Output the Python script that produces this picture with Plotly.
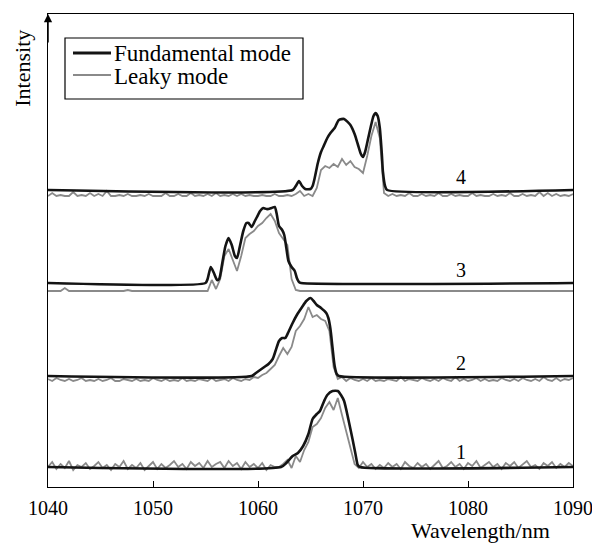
import plotly.graph_objects as go

# ---------------- data ----------------
# Fundamental mode (black) spectra: wavelength (nm) and intensity above own baseline
f4_wl = [1040, 1063.3, 1063.6, 1063.9, 1064.2, 1064.5, 1065.0, 1065.2, 1065.4, 1065.7, 1066.0, 1066.3,
         1066.6, 1066.9, 1067.3, 1067.7, 1068.2, 1068.8, 1069.2, 1069.5, 1069.8, 1070.0, 1070.2, 1070.5,
         1070.8, 1071.0, 1071.2, 1071.4, 1071.6, 1071.8, 1071.9, 1072.1, 1072.3, 1090]
f4_int = [0, 0, 4, 9, 4, 1, 1, 4, 12, 27, 38, 45,
          52, 57, 62, 70, 71, 65, 56, 46, 36, 33, 38, 52,
          66, 74, 77, 74, 62, 35, 18, 4, 0, 0]

f3_wl = [1040, 1055.0, 1055.2, 1055.5, 1055.8, 1056.1, 1056.3, 1056.6, 1056.9, 1057.2, 1057.5, 1057.8,
         1058.0, 1058.3, 1058.6, 1058.9, 1059.1, 1059.4, 1059.7, 1059.9, 1060.2, 1060.5, 1060.8, 1061.0,
         1061.3, 1061.6, 1061.8, 1062.0, 1062.3, 1062.5, 1062.7, 1062.9, 1063.2, 1063.5, 1063.7, 1063.9,
         1064.1, 1090]
f3_int = [0, 0, 4, 16, 10, 3, 4, 20, 37, 45, 38, 27,
          25, 38, 52, 60, 60, 56, 62, 66, 72, 75, 74, 74,
          75, 76, 68, 57, 53, 48, 35, 22, 16, 12, 5, 1,
          0, 0]

f2_wl = [1040, 1059.4, 1059.8, 1060.2, 1060.6, 1061.0, 1061.4, 1061.7, 1062.0, 1062.3, 1062.6, 1062.9,
         1063.3, 1063.7, 1064.2, 1064.6, 1065.0, 1065.3, 1065.6, 1066.0, 1066.5, 1066.7, 1066.9, 1067.1,
         1067.3, 1067.5, 1067.7, 1090]
f2_int = [0, 0, 3, 6, 9, 12, 17, 26, 35, 38, 38, 44,
          53, 61, 69, 75, 78, 75, 71, 68, 63, 58, 47, 28,
          10, 2, 0, 0]

f1_wl = [1040, 1062.2, 1062.7, 1063.3, 1063.8, 1064.3, 1064.8, 1065.2, 1065.6, 1065.9, 1066.3, 1066.6,
         1067.1, 1067.6, 1067.9, 1068.2, 1068.6, 1069.0, 1069.3, 1069.5, 1069.7, 1090]
f1_int = [0, 0, 4, 11, 14, 21, 33, 48, 53, 56, 66, 72,
          76, 76, 72, 66, 48, 28, 12, 2, 0, 0]

# Leaky mode (gray) spectra sampled every 0.4 nm from 1040 to 1090 nm
leaky_start = 1040.0
leaky_step = 0.4
l4_int = [0, 3, 0, 1, 0, 0, 4, 0, 1, 0,
          3, 0, 2, 0, 5, 0, 0, 1, 0, 2,
          0, 0, 1, 0, 2, 0, 0, 0, 3, 0,
          0, 2, 0, 0, 3, 0, 1, 0, 2, 0,
          3, 0, 1, 0, 2, 0, 2, 0, 1, 0,
          0, 1, 0, 0, 2, 0, 0, 1, 0, 2,
          5, 0, 2, 0, 8, 26, 30, 28, 32, 29,
          37, 31, 35, 29, 27, 23, 40, 60, 74, 58,
          3, 0, 2, 0, 1, 0, 3, 0, 0, 2,
          0, 1, 0, 3, 0, 0, 2, 0, 1, 0,
          0, 3, 0, 1, 0, 0, 2, 0, 1, 0,
          3, 0, 0, 2, 0, 1, 0, 4, 0, 3,
          0, 2, 0, 1, 0, 2]
l3_int = [0, 0, 0, 0, 3, 0, 0, 0, 0, 0,
          0, 0, 0, 0, 0, 0, 0, 0, 0, 1,
          0, 0, 0, 0, 0, 0, 0, 0, 0, 0,
          0, 0, 0, 0, 0, 0, 0, 0, 0, 11,
          2, 12, 35, 42, 30, 20, 35, 53, 57, 60,
          65, 68, 73, 77, 70, 58, 52, 46, 12, 1,
          0, 0, 0, 0, 0, 0, 0, 0, 0, 0,
          0, 0, 0, 0, 0, 0, 0, 0, 0, 0,
          0, 0, 0, 0, 0, 0, 0, 0, 0, 0,
          0, 0, 0, 0, 0, 0, 0, 0, 0, 0,
          0, 0, 0, 0, 0, 0, 0, 0, 0, 0,
          0, 0, 0, 0, 0, 0, 0, 0, 0, 0,
          0, 0, 0, 0, 0, 0]
l2_int = [2, 0, 3, 1, 0, 2, 0, 1, 3, 0,
          1, 0, 2, 0, 1, 3, 0, 0, 2, 1,
          0, 2, 0, 1, 0, 3, 1, 0, 2, 0,
          1, 0, 3, 0, 1, 0, 2, 1, 0, 3,
          0, 1, 2, 0, 3, 1, 0, 2, 1, 4,
          3, 6, 8, 12, 16, 25, 33, 27, 34, 50,
          55, 62, 74, 64, 66, 62, 60, 50, 14, 2,
          4, 0, 3, 1, 0, 2, 0, 3, 0, 1,
          0, 2, 1, 0, 4, 0, 2, 1, 0, 3,
          1, 0, 2, 0, 3, 1, 0, 4, 0, 2,
          0, 1, 3, 0, 2, 0, 1, 0, 3, 1,
          0, 2, 0, 3, 1, 0, 2, 0, 4, 1,
          0, 3, 0, 2, 1, 3]
l1_int = [3, 8, 1, 6, 2, 9, 0, 5, 3, 7,
          1, 4, 8, 2, 5, 0, 6, 3, 9, 1,
          5, 2, 7, 0, 4, 8, 1, 6, 2, 5,
          9, 3, 6, 1, 8, 4, 7, 2, 9, 3,
          6, 8, 2, 9, 4, 7, 1, 8, 3, 6,
          2, 7, 0, 5, 3, 3, 6, 10, 2, 14,
          8, 20, 28, 43, 46, 52, 62, 68, 60, 72,
          55, 38, 20, 6, 2, 8, 3, 6, 1, 5,
          2, 7, 3, 6, 1, 8, 4, 2, 7, 3,
          6, 1, 5, 9, 2, 4, 8, 3, 6, 1,
          7, 4, 9, 2, 5, 8, 3, 6, 1, 7,
          4, 8, 2, 6, 9, 3, 5, 1, 7, 4,
          8, 2, 6, 3, 7, 4]

# vertical offsets of each stacked spectrum (baseline level)
fund_offsets = [20, 111, 204, 297]
leaky_offsets = [17, 106, 196, 291]
curve_labels = ["1", "2", "3", "4"]
label_wl = 1079.3
label_y = [35, 124, 217, 310]

series_names = ["Fundamental mode", "Leaky mode"]
x_ticks = [1040, 1050, 1060, 1070, 1080, 1090]
x_range = [1040, 1090]
y_range = [0, 473]

# ---------------- figure ----------------
FONT = "Liberation Serif"
BLACK = "#141414"
GRAY = "#8a8a8a"

fund = [(f1_wl, f1_int), (f2_wl, f2_int), (f3_wl, f3_int), (f4_wl, f4_int)]
leaky = [l1_int, l2_int, l3_int, l4_int]
leaky_wl = [round(leaky_start + leaky_step * k, 2) for k in range(len(l1_int))]

fig = go.Figure()
for i in range(4):
    fig.add_trace(go.Scatter(
        x=leaky_wl, y=[v + leaky_offsets[i] for v in leaky[i]],
        mode="lines", line=dict(color=GRAY, width=1.8),
        name=series_names[1], showlegend=False))
for i in range(4):
    wl, it = fund[i]
    fig.add_trace(go.Scatter(
        x=wl, y=[v + fund_offsets[i] for v in it],
        mode="lines", line=dict(color=BLACK, width=2.6, shape="spline", smoothing=0.6),
        name=series_names[0], showlegend=False))

annotations = []
for i in range(4):
    annotations.append(dict(x=label_wl, y=label_y[i], xref="x", yref="y",
                            text=curve_labels[i], showarrow=False,
                            font=dict(family=FONT, size=20, color="black")))
# y axis title
annotations.append(dict(x=-0.048, y=0.886, xref="paper", yref="paper", text="Intensity",
                        textangle=-90, showarrow=False, xanchor="center", yanchor="middle",
                        font=dict(family=FONT, size=22, color="black")))
# x axis title
annotations.append(dict(x=0.823, y=-0.0915, xref="paper", yref="paper", text="Wavelength/nm",
                        showarrow=False, xanchor="center", yanchor="middle",
                        font=dict(family=FONT, size=22, color="black")))
# arrow at top of y axis
annotations.append(dict(x=0, y=1, xref="paper", yref="paper", ax=0, ay=30, text="",
                        showarrow=True, arrowhead=2, arrowsize=1.1, arrowwidth=1.5,
                        arrowcolor="black", standoff=0))

# legend (drawn as a boxed key)
def px_x(p):
    return (p - 48) / 525.0

def px_y(p):
    return (487 - p) / 473.0

shapes = [
    dict(type="rect", xref="paper", yref="paper", x0=px_x(65), x1=px_x(303),
         y0=px_y(99), y1=px_y(38), line=dict(color="black", width=1.2),
         fillcolor="white", layer="above"),
    dict(type="line", xref="paper", yref="paper", x0=px_x(73), x1=px_x(111),
         y0=px_y(53), y1=px_y(53), line=dict(color=BLACK, width=3), layer="above"),
    dict(type="line", xref="paper", yref="paper", x0=px_x(73), x1=px_x(111),
         y0=px_y(75), y1=px_y(75), line=dict(color=GRAY, width=2), layer="above"),
]
annotations.append(dict(x=px_x(112), y=px_y(53), xref="paper", yref="paper",
                        text=series_names[0], showarrow=False, xanchor="left", yanchor="middle",
                        font=dict(family=FONT, size=23, color="black")))
annotations.append(dict(x=px_x(112), y=px_y(76), xref="paper", yref="paper",
                        text=series_names[1], showarrow=False, xanchor="left", yanchor="middle",
                        font=dict(family=FONT, size=23, color="black")))

fig.update_layout(
    width=592, height=543,
    margin=dict(l=48, r=19, t=14, b=56, autoexpand=False),
    paper_bgcolor="white", plot_bgcolor="white",
    showlegend=False,
    annotations=annotations,
    shapes=shapes,
)
fig.update_xaxes(range=x_range, tickvals=x_ticks, ticktext=[str(t) for t in x_ticks],
                 ticks="inside", ticklen=6, tickwidth=1, tickcolor="black",
                 showline=True, linecolor="black", linewidth=1.3, mirror=True,
                 showgrid=False, zeroline=False, ticklabeloverflow="allow",
                 ticklabelstandoff=3, automargin=False,
                 tickfont=dict(family=FONT, size=20, color="black"))
fig.update_yaxes(range=y_range, showticklabels=False, ticks="",
                 showline=True, linecolor="black", linewidth=1.3, mirror=True,
                 showgrid=False, zeroline=False, automargin=False)

fig.write_html("out.html")
